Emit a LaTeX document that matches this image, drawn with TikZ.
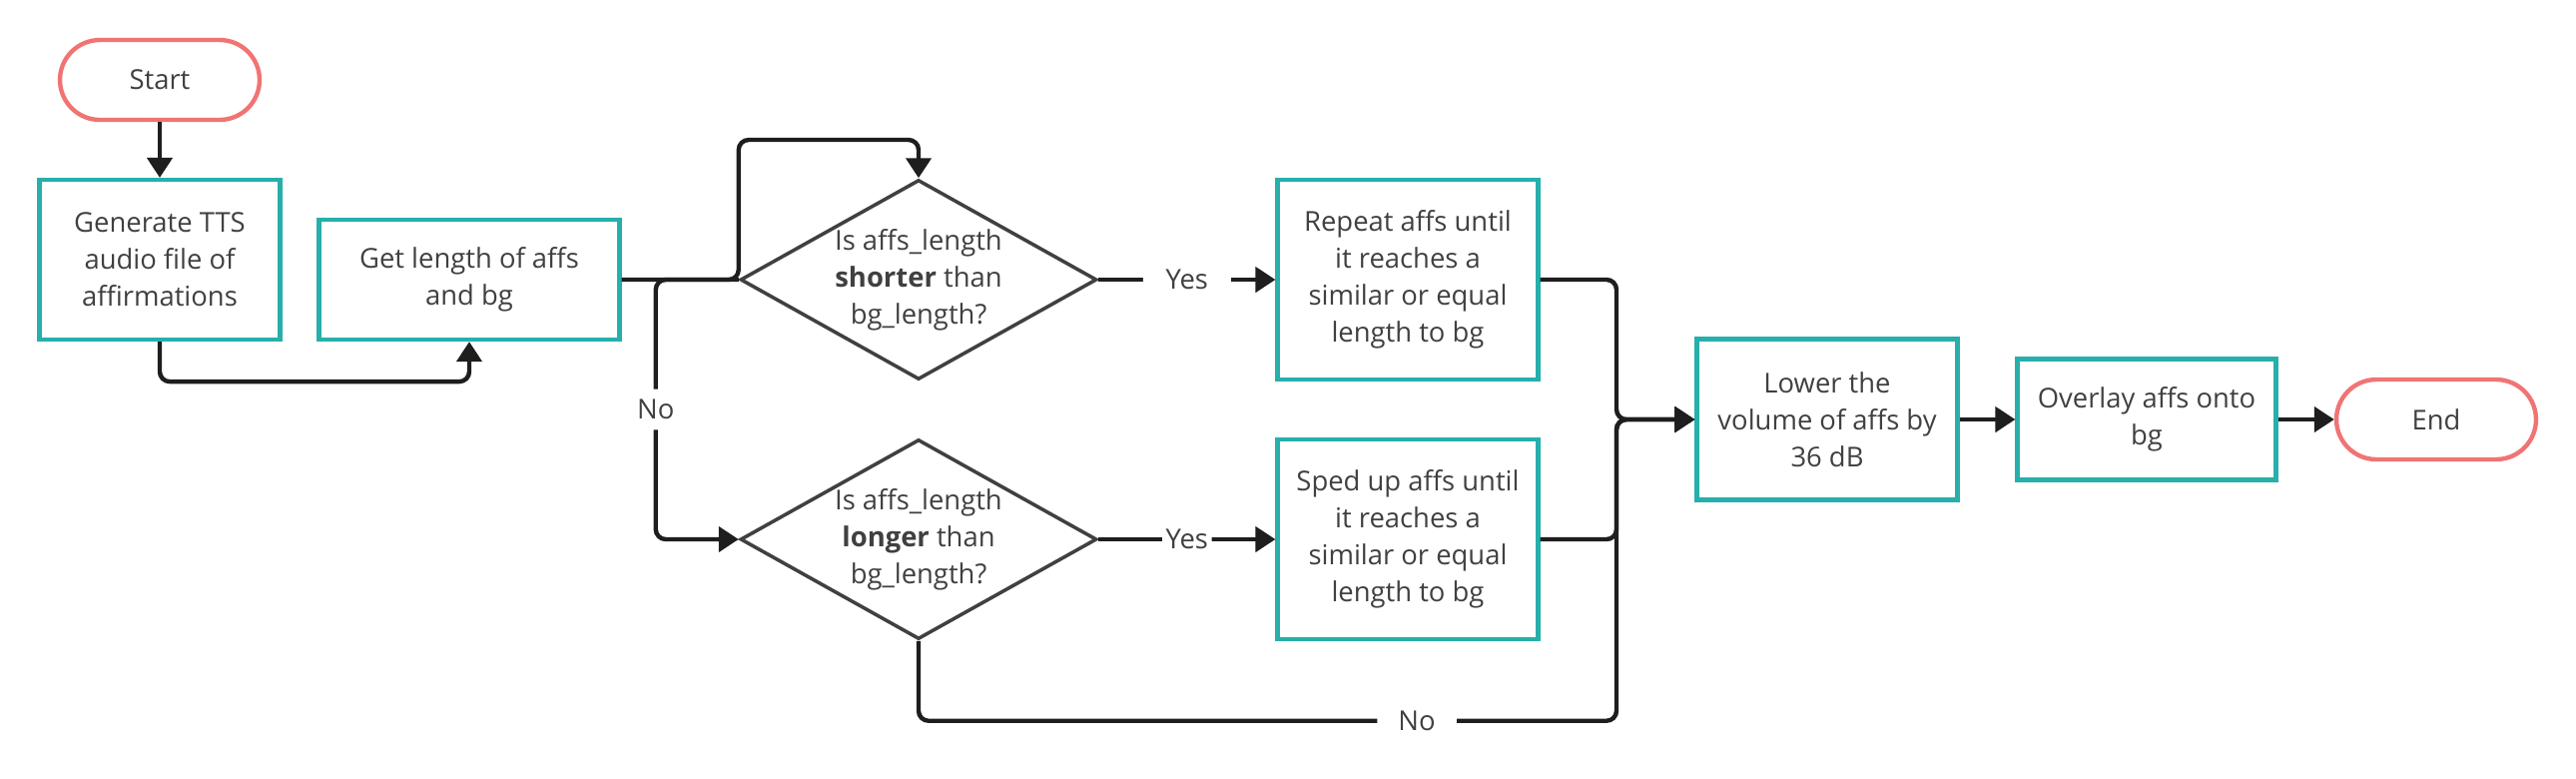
\documentclass[tikz,border=0pt]{standalone}
\usepackage{fontspec}
\setmainfont{Open Sans}
\usetikzlibrary{shapes.geometric,arrows.meta}
\definecolor{termred}{HTML}{F07474}
\definecolor{proccyan}{HTML}{27AFAC}
\definecolor{inkgray}{HTML}{404040}
\definecolor{linegray}{HTML}{1E1E1E}
\tikzset{
  term/.style={draw=termred, line width=2.5pt, rounded corners=0.8cm, minimum width=4cm, minimum height=1.6cm, text=inkgray},
  proc/.style={draw=proccyan, line width=2.4pt, align=center, text=inkgray},
  decide/.style={draw=inkgray, diamond, aspect=1.78, inner sep=0pt, line width=2pt, minimum width=7.14cm, minimum height=4cm, align=center, text=inkgray},
  flow/.style={draw=linegray, line width=2.5pt, rounded corners=0.2cm, -{Triangle[length=0.4cm,width=0.5cm]}},
  lbl/.style={fill=white, text=inkgray, inner ysep=4pt},
}
\begin{document}
\begin{tikzpicture}[x=0.02cm, y=-0.02cm, font=\fontsize{15.6}{21}\selectfont]
    \useasboundingbox (0,0) rectangle (2580,779);
    \node[term] (start) at (160,80) {Start};
    \node[proc, minimum width=4.82cm, minimum height=3.2cm] (gen) at (160,260) {Generate TTS\\audio file of\\affirmations};
    \node[proc, minimum width=6.02cm, minimum height=2.4cm] (get) at (470,280) {Get length of affs\\and bg};
    \node[decide] (q1) at (920,280) {Is affs\_length\\\textbf{shorter} than\\bg\_length?};
    \node[decide] (q2) at (920,540) {Is affs\_length\\\textbf{longer} than\\bg\_length?};
    \node[proc, minimum width=5.22cm, minimum height=4cm] (rep) at (1410,280) {Repeat affs until\\it reaches a\\similar or equal\\length to bg};
    \node[proc, minimum width=5.22cm, minimum height=4cm] (sped) at (1410,540) {Sped up affs until\\it reaches a\\similar or equal\\length to bg};
    \node[proc, minimum width=5.22cm, minimum height=3.22cm] (low) at (1830,420) {Lower the\\volume of affs by\\36 dB};
    \node[proc, minimum width=5.18cm, minimum height=2.42cm] (over) at (2150,420) {Overlay affs onto\\bg};
    \node[term] (stop) at (2440,420) {End};
    \coordinate (merge) at (1619,420);

    \draw[flow] (start) -- (gen);
    \draw[flow] (gen.south) -- ++(0,40) -| (get.south);
    \draw[flow] (get.east) -| ([yshift=2.8cm]q1.west) -| (q1.north);
    \draw[flow] (q1.west) -- ++(-83,0) |- node[lbl, pos=0.25, inner ysep=6pt]{No} (q2.west);
    \draw[flow] (q1.east) -- node[lbl, inner xsep=13pt]{Yes} (rep.west);
    \draw[flow] (q2.east) -- node[lbl, inner xsep=2pt]{Yes} (sped.west);
    \draw[flow] (rep.east) -| (merge) -- (low.west);
    \draw[flow] (sped.east) -| (merge) -- (low.west);
    \draw[flow] (q2.south) -- ++(0,80) -| node[lbl, pos=0.357, inner xsep=12pt]{No} (merge) -- (low.west);
    \draw[flow] (low) -- (over);
    \draw[flow] (over) -- (stop);
\end{tikzpicture}
\end{document}
